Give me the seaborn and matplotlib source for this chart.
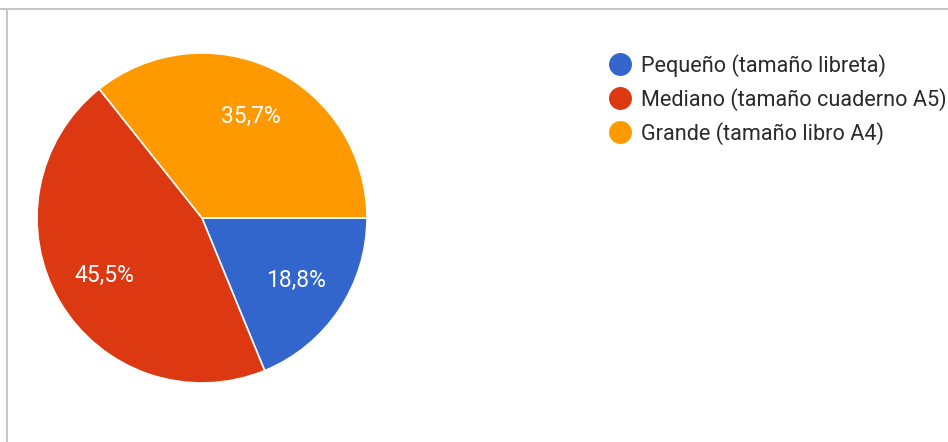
import matplotlib.pyplot as plt
from matplotlib.lines import Line2D
import seaborn as sns

# Survey answers (Google Forms style pie)
categories = [
    "Pequeño (tamaño libreta)",
    "Mediano (tamaño cuaderno A5)",
    "Grande (tamaño libro A4)",
]
shares = [18.8, 45.5, 35.7]
colors = ["#3366cc", "#dc3912", "#ff9900"]

sns.set_style("white")
plt.rcParams["font.family"] = ["Roboto", "DejaVu Sans"]

W, H = 948, 442
fig = plt.figure(figsize=(W / 100, H / 100), dpi=100)

# pie centred at (202, 218) px, radius ~165 px
cx, cy, r = 202, 218, 165
ax = fig.add_axes([(cx - r) / W, 1 - (cy + r) / H, 2 * r / W, 2 * r / H])
palette = sns.color_palette(colors)

wedges, texts, autotexts = ax.pie(
    shares,
    colors=palette,
    startangle=0,
    counterclock=False,
    autopct=lambda p: f"{p:.1f}%".replace(".", ","),
    pctdistance=0.685,
    wedgeprops={"edgecolor": "white", "linewidth": 1.2},
    textprops={"color": "white", "fontsize": 16.5},
    radius=1,
)
ax.set_xlim(-1, 1)
ax.set_ylim(-1, 1)
ax.set_aspect("equal")
ax.axis("off")

# legend with round markers
handles = [
    Line2D([], [], marker="o", linestyle="", markersize=15.5,
           markerfacecolor=c, markeredgecolor=c)
    for c in colors
]
fig.legend(
    handles,
    categories,
    loc="upper left",
    bbox_to_anchor=(608.7 / W, 1 - 54 / H),
    frameon=False,
    fontsize=15.6,
    labelcolor="#2a2a2a",
    handletextpad=0.51,
    labelspacing=0.5,
    handlelength=1.0,
    borderpad=0,
    borderaxespad=0,
)

# thin frame lines at top and left, like the screenshot
fig.add_artist(Line2D([0, 1], [1 - 9 / H, 1 - 9 / H], color="#c8c8c8", linewidth=1.5))
fig.add_artist(Line2D([7 / W, 7 / W], [0, 1 - 9 / H], color="#c8c8c8", linewidth=1.5))

fig.savefig("out.png", dpi=100)
